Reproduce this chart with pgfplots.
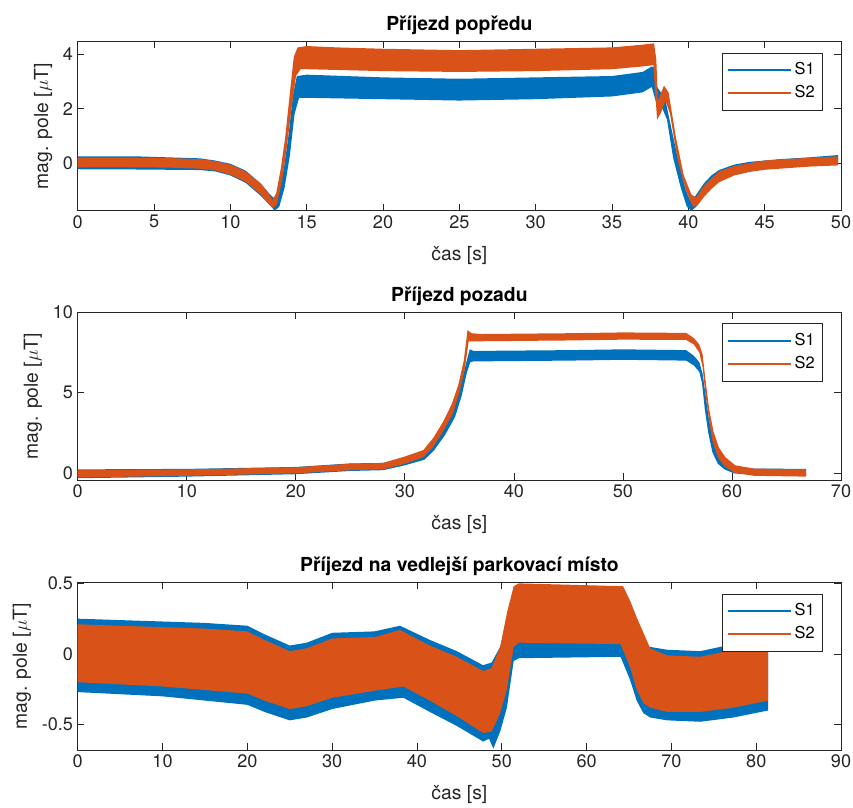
\documentclass[border=0pt]{standalone}
\usepackage{fontspec}
\setmainfont{TeX Gyre Heros}
\usepackage{pgfplots}
\pgfplotsset{compat=1.18}
\definecolor{mblue}{HTML}{0072BD}
\definecolor{morange}{HTML}{D95319}
\definecolor{axgray}{HTML}{262626}

% shared look of the three MATLAB-like subplots
\pgfplotsset{
  sub/.style={
    scale only axis, width=572.5pt,
    axis line style={axgray, line width=0.6pt},
    tick style={axgray, line width=0.6pt},
    major tick length=5pt,
    tick align=inside,
    /pgf/number format/assume math mode=true,
    ticklabel style={font=\fontsize{13.6}{16}\selectfont, text=axgray},
    title style={font=\fontsize{14.5}{17}\selectfont\bfseries, inner sep=0pt, yshift=-1pt},
    xlabel={čas [s]},
    ylabel={mag. pole [$\mu$T]},
    every axis y label/.style={at={(ticklabel cs:0.5,4.5pt)}, rotate=90,
      anchor=south, inner sep=0pt, font=\fontsize{14.5}{17}\selectfont, text=axgray},
    every axis x label/.style={at={(axis description cs:0.5,-0.212)},
      anchor=north, inner sep=0pt, font=\fontsize{14.5}{17}\selectfont, text=axgray},
    legend cell align=left,
    legend style={at={(1,1)}, xshift=-13.5pt, yshift=-8.2pt, anchor=north east,
      draw=axgray, line width=0.6pt, fill=white,
      font=\fontsize{12.3}{14}\selectfont,
      inner xsep=4pt, inner ysep=5pt, row sep=1pt,
      nodes={inner sep=2pt, text depth=3pt},
      /tikz/every even column/.append style={column sep=2pt}},
    legend image code/.code={\draw[#1, line width=1.5pt] (0pt,0pt) -- (47pt,0pt);},
  }
}

\begin{document}
\begin{tikzpicture}
\useasboundingbox (0,0) rectangle (639.75pt,-605.25pt);

% ---------------- Příjezd popředu ----------------
\begin{axis}[sub, at={(58.3pt,-158pt)}, anchor=south west, height=126.75pt,
  title={Příjezd popředu},
  xmin=0, xmax=50, ymin=-1.74, ymax=4.46,
  xtick={0,5,...,50}, ytick={0,2,4}]
% S1 envelope
\addplot[draw=none, fill=mblue, forget plot] coordinates {
 (0,0.25)(4,0.25)(8,0.18)(9,0.1)(10,-0.02)(11,-0.27)(12,-0.75)(12.6,-1.15)(12.9,-1.3)
 (13.2,-1.0)(13.5,-0.2)(13.8,1.0)(14.1,2.5)(14.35,3.2)(15,3.25)(20,3.15)(25,3.1)(30,3.15)
 (35,3.2)(37,3.35)(37.6,3.55)(37.8,3.5)(37.95,2.8)(38.2,2.6)(38.5,2.3)(38.8,1.5)(39.3,0.2)
 (39.8,-0.95)(40.1,-1.35)(40.4,-1.25)(41,-0.75)(41.5,-0.45)(42,-0.25)(43,-0.05)(44,0.05)
 (46,0.15)(48,0.22)(49.8,0.3)
 (49.8,-0.05)(48,-0.1)(46,-0.15)(44,-0.25)(43,-0.35)(42,-0.6)(41.5,-0.85)(41,-1.2)
 (40.5,-1.6)(40.2,-1.74)(39.9,-1.6)(39.5,-0.9)(39.0,0.2)(38.6,1.6)(38.3,2.0)(38.0,2.0)
 (37.8,2.4)(37.6,2.8)(37,2.6)(35,2.45)(30,2.35)(25,2.3)(20,2.35)(15,2.4)(14.5,2.4)
 (14.2,1.8)(13.9,0.3)(13.55,-0.9)(13.2,-1.6)(12.9,-1.74)(12.6,-1.55)(12,-1.2)(11,-0.72)
 (10,-0.45)(9,-0.3)(8,-0.25)(4,-0.23)(0,-0.22)} -- cycle;
% S2 envelope
\addplot[draw=none, fill=morange, forget plot] coordinates {
 (0,0.2)(2,0.21)(4,0.2)(6,0.19)(8,0.15)(9,0.08)(10,-0.05)(11,-0.3)(12,-0.75)(12.5,-1.1)
 (12.75,-1.35)(13.0,-1.1)(13.3,-0.2)(13.6,1.0)(13.9,2.6)(14.15,3.9)(14.4,4.25)(15,4.3)
 (17,4.25)(20,4.2)(25,4.15)(30,4.2)(35,4.25)(37,4.35)(37.75,4.4)(37.9,3.8)(38.0,2.3)
 (38.15,2.5)(38.4,2.85)(38.7,2.6)(39.2,0.9)(39.7,-0.45)(40.2,-1.15)(40.5,-1.25)(41,-0.85)
 (41.5,-0.55)(42,-0.3)(43,-0.1)(44,0.0)(45,0.1)(46,0.14)(48,0.2)(49.8,0.25)
 (49.8,-0.08)(48,-0.12)(46,-0.2)(45,-0.24)(44,-0.32)(43,-0.45)(42,-0.7)(41.5,-0.95)
 (41,-1.25)(40.6,-1.55)(40.3,-1.6)(39.8,-0.95)(39.3,0.1)(38.8,1.8)(38.5,2.3)(38.2,1.85)
 (37.95,1.6)(37.85,2.4)(37.7,3.6)(37,3.55)(35,3.45)(30,3.38)(25,3.35)(20,3.38)(15,3.45)
 (14.6,3.45)(14.3,3.2)(14.0,2.0)(13.7,0.6)(13.4,-0.6)(13.05,-1.5)(12.8,-1.65)(12.5,-1.5)
 (12,-1.15)(11,-0.68)(10,-0.42)(9,-0.26)(8,-0.2)(6,-0.16)(4,-0.15)(2,-0.14)(0,-0.15)} -- cycle;
\addlegendimage{mblue}\addlegendentry{S1}
\addlegendimage{morange}\addlegendentry{S2}
\end{axis}

% ---------------- Příjezd pozadu ----------------
\begin{axis}[sub, at={(58.3pt,-360pt)}, anchor=south west, height=125.8pt,
  title={Příjezd pozadu},
  xmin=0, xmax=70, ymin=-0.41, ymax=10,
  xtick={0,10,...,70}, ytick={0,5,10}]
\addplot[draw=none, fill=mblue, forget plot] coordinates {
 (0,0.25)(10,0.28)(20,0.4)(25,0.62)(28,0.65)(30,0.95)(31.8,1.3)(32.7,2.0)(33.7,3.1)
 (34.5,4.2)(35.1,5.4)(35.6,6.8)(35.95,7.7)(36.3,7.6)(45,7.65)(50,7.7)(55.8,7.65)(56.5,7.3)
 (57.0,6.9)(57.3,6.2)(57.55,5.0)(57.85,3.5)(58.2,2.2)(58.7,1.3)(59.3,0.8)(60.2,0.45)
 (62,0.3)(66.8,0.28)
 (66.8,-0.12)(62,-0.1)(60.2,0.0)(59.3,0.25)(58.7,0.6)(58.2,1.3)(57.8,2.6)(57.5,4.0)
 (57.25,5.6)(57.0,6.3)(56.5,6.7)(55.8,7.0)(50,7.05)(45,7.0)(36.3,6.95)(36.0,6.9)(35.7,6.3)
 (35.2,4.8)(34.6,3.5)(33.7,2.4)(32.7,1.45)(31.8,0.85)(30,0.5)(28,0.2)(25,0.15)(20,-0.05)
 (10,-0.2)(0,-0.3)} -- cycle;
\addplot[draw=none, fill=morange, forget plot] coordinates {
 (0,0.2)(10,0.25)(20,0.38)(25,0.6)(28,0.65)(30,1.05)(31.7,1.45)(32.6,2.2)(33.5,3.2)
 (34.3,4.3)(34.9,5.5)(35.4,7.0)(35.75,8.9)(36.1,8.7)(37,8.65)(45,8.7)(50,8.75)(55.8,8.72)
 (56.5,8.4)(57.0,8.0)(57.3,7.4)(57.6,5.6)(57.9,4.0)(58.3,2.6)(58.8,1.6)(59.4,1.0)(60.3,0.5)
 (62,0.3)(66.8,0.25)
 (66.8,-0.2)(62,-0.15)(60.2,0.05)(59.3,0.45)(58.7,1.0)(58.2,2.0)(57.85,3.5)(57.55,5.0)
 (57.3,6.6)(57.0,7.5)(56.5,8.0)(55.8,8.28)(50,8.3)(45,8.25)(37,8.2)(36.2,8.2)(35.85,8.2)
 (35.5,6.5)(35.0,5.0)(34.4,3.7)(33.5,2.6)(32.6,1.65)(31.7,1.0)(30,0.6)(28,0.25)(25,0.2)
 (20,0.0)(10,-0.15)(0,-0.25)} -- cycle;
\addlegendimage{mblue}\addlegendentry{S1}
\addlegendimage{morange}\addlegendentry{S2}
\end{axis}

% ---------------- Příjezd na vedlejší parkovací místo ----------------
\begin{axis}[sub, at={(58.3pt,-562.5pt)}, anchor=south west, height=125.5pt,
  title={Příjezd na vedlejší parkovací místo},
  xmin=0, xmax=90, ymin=-0.68, ymax=0.505,
  xtick={0,10,...,90}, ytick={-0.5,0,0.5}, yticklabels={-0.5,0,0.5}]
\addplot[draw=none, fill=mblue, forget plot] coordinates {
 (0,0.25)(5,0.24)(10,0.23)(15,0.22)(20,0.2)(22,0.14)(25,0.06)(27,0.08)(30,0.15)(35,0.16)
 (38,0.2)(41.5,0.1)(44.7,0.02)(47.8,-0.08)(48.8,-0.06)(49.8,0.05)(50.6,0.2)(51.4,0.15)
 (64.3,0.15)(65.1,0.15)(65.9,0.1)(66.7,0.05)(67.5,0.05)(69.5,0.03)(73.4,0.02)(77.3,0.07)
 (81.4,0.09)
 (81.4,-0.4)(77.3,-0.45)(73.4,-0.48)(69.5,-0.47)(67.5,-0.45)(66.7,-0.42)(65.9,-0.33)
 (65.1,-0.18)(64,-0.02)(52,-0.03)(51.4,-0.05)(50.6,-0.38)(49.8,-0.55)(49.0,-0.67)
 (48.5,-0.6)(47.8,-0.62)(44.7,-0.51)(41.5,-0.41)(38.4,-0.31)(35,-0.33)(30,-0.39)
 (27,-0.45)(25,-0.47)(22,-0.41)(20,-0.36)(10,-0.3)(0,-0.27)} -- cycle;
\addplot[draw=none, fill=morange, forget plot] coordinates {
 (0,0.21)(5,0.2)(10,0.19)(15,0.18)(20,0.16)(22,0.1)(25,0.02)(27,0.04)(30,0.11)(35,0.12)
 (38,0.17)(41.5,0.06)(44.7,-0.02)(47.8,-0.12)(48.8,-0.1)(49.8,0.05)(50.6,0.29)(51.4,0.48)
 (52,0.5)(64.3,0.48)(65.1,0.38)(65.9,0.26)(66.7,0.15)(67.5,0.04)(69.5,-0.01)(73.4,-0.02)
 (77.3,0.03)(81.4,0.05)
 (81.4,-0.33)(77.3,-0.38)(73.4,-0.41)(69.5,-0.41)(67.5,-0.38)(66.7,-0.35)(65.9,-0.25)
 (65.1,-0.09)(64,0.07)(52,0.08)(51.4,0.05)(50.6,-0.25)(49.8,-0.42)(48.8,-0.55)(47.8,-0.56)
 (44.7,-0.44)(41.5,-0.33)(38.4,-0.23)(35,-0.26)(30,-0.31)(27,-0.37)(25,-0.39)(22,-0.33)
 (20,-0.28)(10,-0.23)(0,-0.2)} -- cycle;
\addlegendimage{mblue}\addlegendentry{S1}
\addlegendimage{morange}\addlegendentry{S2}
\end{axis}
\end{tikzpicture}
\end{document}
